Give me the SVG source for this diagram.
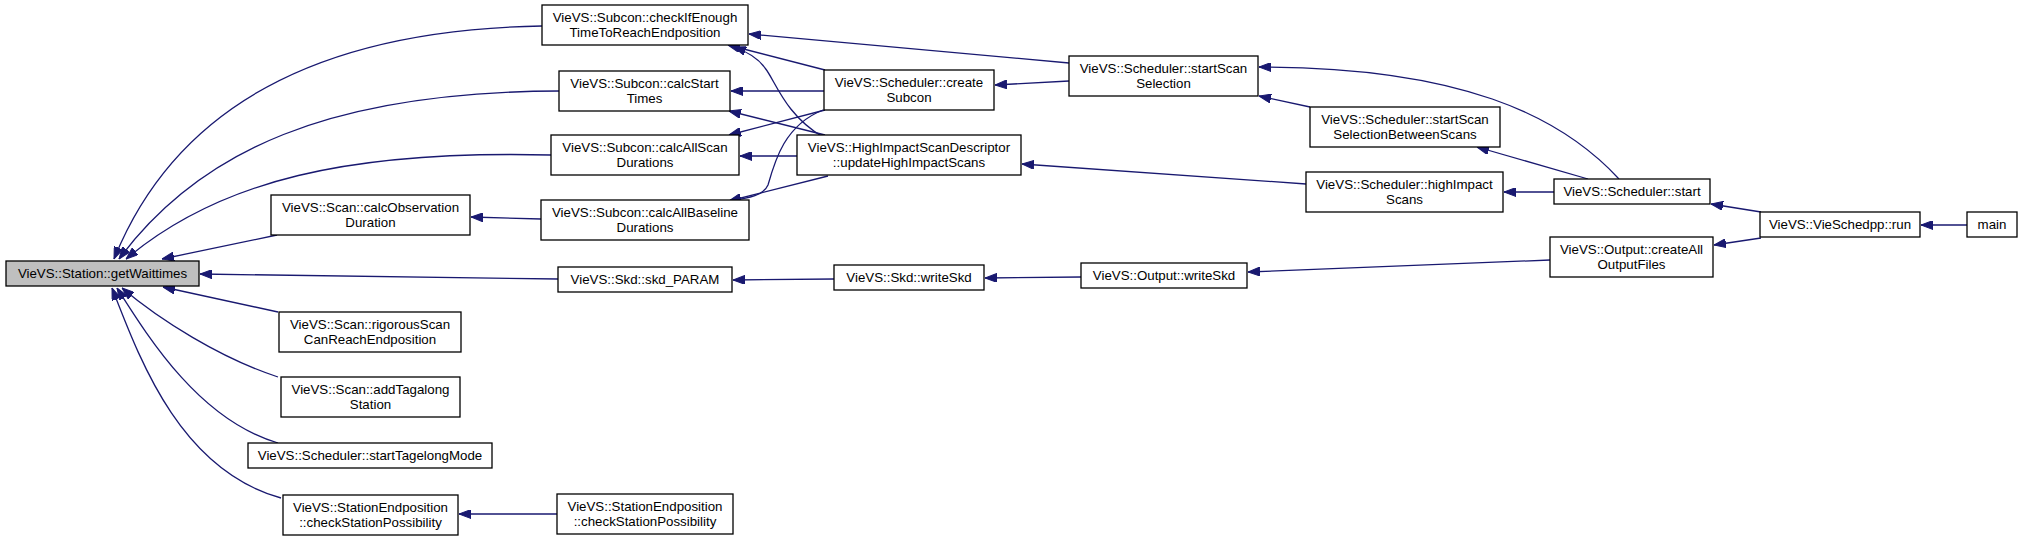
<svg xmlns="http://www.w3.org/2000/svg" width="2032" height="540" viewBox="0 0 2032 540">
<style>
.n rect{fill:#fff;stroke:#000;stroke-width:1.3}
.n.cur rect{fill:#bfbfbf}
.n text{font-family:"Liberation Sans",Arial,sans-serif;font-size:13.3px;fill:#000;text-anchor:middle}
.e path{fill:none;stroke:#191970;stroke-width:1.3;marker-end:url(#ah)}
</style>
<defs>
<marker id="ah" viewBox="0 0 12 9" refX="12" refY="4.5" markerWidth="12" markerHeight="9" markerUnits="userSpaceOnUse" orient="auto">
<path d="M0,0 L12,4.5 L0,9 z" fill="#191970" stroke="#191970" stroke-width="1"/>
</marker>
</defs>
<rect width="2032" height="540" fill="#fff"/>
<g id="edges" class="e">
<path d="M542,26 C300,30 170,120 114,259"/>
<path d="M559,91 C330,92 200,150 119,259"/>
<path d="M551,155 C350,150 220,180 126,259"/>
<path d="M277,235 L162,259"/>
<path d="M558,279 L200,274"/>
<path d="M278,312 L163,287"/>
<path d="M278,377 C220,358 160,320 122,288"/>
<path d="M278,443 C200,420 150,340 117,288"/>
<path d="M281,498 C180,470 140,360 112,288"/>
<path d="M557,514 L459,514"/>
<path d="M1069,63 L749,34"/>
<path d="M825,70 L728,45"/>
<path d="M823,137 C785,115 775,80 765,68 C758,58 748,52 734,47"/>
<path d="M824,91 L731,91"/>
<path d="M825,135 L729,111"/>
<path d="M825,110 L729,135"/>
<path d="M797,156 L740,156"/>
<path d="M823,110 C785,125 775,160 768,185 C764,195 750,198 729,201"/>
<path d="M828,176 L729,201"/>
<path d="M541,219 L471,217"/>
<path d="M1069,81 L995,85"/>
<path d="M1619,179 C1560,115 1460,67 1259,67"/>
<path d="M1310,107 L1259,96"/>
<path d="M1588,179 L1477,147"/>
<path d="M1306,184 L1022,164"/>
<path d="M1554,192 L1504,192"/>
<path d="M1761,212 L1711,204"/>
<path d="M1761,238 L1714,245"/>
<path d="M1967,225 L1921,225"/>
<path d="M1550,260 L1248,272"/>
<path d="M1081,277 L985,278"/>
<path d="M834,279 L733,280"/>
</g>
<g id="n_getWaittimes" class="n cur"><rect x="6" y="261" width="193" height="25"/><text x="102.5" y="277.5">VieVS::Station::getWaittimes</text></g>
<g id="n_checkIfEnough" class="n"><rect x="542" y="5" width="206" height="40"/><text x="645" y="22">VieVS::Subcon::checkIfEnough</text><text x="645" y="37">TimeToReachEndposition</text></g>
<g id="n_calcStartTimes" class="n"><rect x="559" y="71" width="171" height="40"/><text x="644.5" y="88">VieVS::Subcon::calcStart</text><text x="644.5" y="103">Times</text></g>
<g id="n_calcAllScanDurations" class="n"><rect x="551" y="135" width="188" height="40"/><text x="645" y="152">VieVS::Subcon::calcAllScan</text><text x="645" y="167">Durations</text></g>
<g id="n_calcObservationDuration" class="n"><rect x="271" y="195" width="199" height="40"/><text x="370.5" y="212">VieVS::Scan::calcObservation</text><text x="370.5" y="227">Duration</text></g>
<g id="n_calcAllBaselineDurations" class="n"><rect x="541" y="200" width="208" height="40"/><text x="645" y="217">VieVS::Subcon::calcAllBaseline</text><text x="645" y="232">Durations</text></g>
<g id="n_skd_PARAM" class="n"><rect x="558" y="267" width="174" height="25"/><text x="645" y="283.5">VieVS::Skd::skd_PARAM</text></g>
<g id="n_rigorousScan" class="n"><rect x="279" y="312" width="182" height="40"/><text x="370" y="329">VieVS::Scan::rigorousScan</text><text x="370" y="344">CanReachEndposition</text></g>
<g id="n_addTagalong" class="n"><rect x="281" y="377" width="179" height="40"/><text x="370.5" y="394">VieVS::Scan::addTagalong</text><text x="370.5" y="409">Station</text></g>
<g id="n_startTagelongMode" class="n"><rect x="248" y="443" width="244" height="25"/><text x="370" y="459.5">VieVS::Scheduler::startTagelongMode</text></g>
<g id="n_checkStationPossibilityA" class="n"><rect x="283" y="495" width="175" height="40"/><text x="370.5" y="512">VieVS::StationEndposition</text><text x="370.5" y="527">::checkStationPossibility</text></g>
<g id="n_checkStationPossibilityB" class="n"><rect x="557" y="494" width="176" height="40"/><text x="645" y="511">VieVS::StationEndposition</text><text x="645" y="526">::checkStationPossibility</text></g>
<g id="n_createSubcon" class="n"><rect x="824" y="70" width="170" height="40"/><text x="909" y="87">VieVS::Scheduler::create</text><text x="909" y="102">Subcon</text></g>
<g id="n_updateHighImpactScans" class="n"><rect x="797" y="135" width="224" height="40"/><text x="909" y="152">VieVS::HighImpactScanDescriptor</text><text x="909" y="167">::updateHighImpactScans</text></g>
<g id="n_skdWriteSkd" class="n"><rect x="834" y="265" width="150" height="25"/><text x="909" y="281.5">VieVS::Skd::writeSkd</text></g>
<g id="n_startScanSelection" class="n"><rect x="1069" y="56" width="189" height="40"/><text x="1163.5" y="73">VieVS::Scheduler::startScan</text><text x="1163.5" y="88">Selection</text></g>
<g id="n_outputWriteSkd" class="n"><rect x="1081" y="263" width="166" height="25"/><text x="1164" y="279.5">VieVS::Output::writeSkd</text></g>
<g id="n_startScanSelectionBetweenScans" class="n"><rect x="1310" y="107" width="190" height="40"/><text x="1405" y="124">VieVS::Scheduler::startScan</text><text x="1405" y="139">SelectionBetweenScans</text></g>
<g id="n_highImpactScans" class="n"><rect x="1306" y="172" width="197" height="40"/><text x="1404.5" y="189">VieVS::Scheduler::highImpact</text><text x="1404.5" y="204">Scans</text></g>
<g id="n_schedulerStart" class="n"><rect x="1554" y="179" width="156" height="25"/><text x="1632" y="195.5">VieVS::Scheduler::start</text></g>
<g id="n_createAllOutputFiles" class="n"><rect x="1550" y="237" width="163" height="40"/><text x="1631.5" y="254">VieVS::Output::createAll</text><text x="1631.5" y="269">OutputFiles</text></g>
<g id="n_vieSchedppRun" class="n"><rect x="1760" y="212" width="160" height="25"/><text x="1840" y="228.5">VieVS::VieSchedpp::run</text></g>
<g id="n_main" class="n"><rect x="1967" y="212" width="50" height="25"/><text x="1992" y="228.5">main</text></g>
</svg>
